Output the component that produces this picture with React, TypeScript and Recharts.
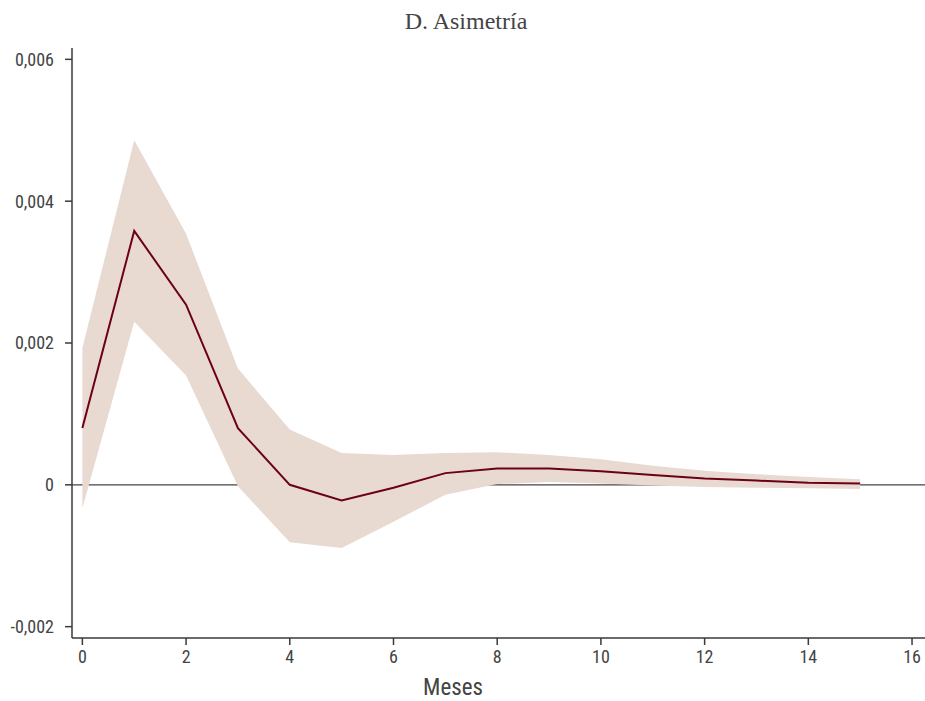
import { ComposedChart, Area, Line, XAxis, YAxis, CartesianGrid } from 'recharts';

// Impulse response of skewness: point estimate and confidence band by month
const months = [0, 1, 2, 3, 4, 5, 6, 7, 8, 9, 10, 11, 12, 13, 14, 15];
const response = [0.0008, 0.00358, 0.00254, 0.0008, 0.0, -0.00022, -0.00004, 0.000165, 0.00023, 0.00023, 0.00019, 0.00014, 0.00009, 0.00006, 0.00003, 0.00002];
const upperBand = [0.00193, 0.00486, 0.00354, 0.00164, 0.00078, 0.00045, 0.00042, 0.00045, 0.00046, 0.00042, 0.00036, 0.00027, 0.0002, 0.00015, 0.00011, 0.00008];
const lowerBand = [-0.00033, 0.0023, 0.00154, -0.00002, -0.00081, -0.00089, -0.00052, -0.00014, 0.00001, 0.00004, 0.00002, -0.00001, -0.00003, -0.00004, -0.00005, -0.00006];

const xTicks = [0, 2, 4, 6, 8, 10, 12, 14, 16];
const yTicks = [-0.002, 0, 0.002, 0.004, 0.006];

const data = months.map((m, i) => ({
  month: m,
  value: response[i],
  band: [lowerBand[i], upperBand[i]],
}));

const tickFont = "'Roboto Condensed', 'Liberation Sans Narrow', Roboto, sans-serif";
const axisColor = '#3a3a3a';
const textColor = '#444';

const formatY = (v: number) => (v === 0 ? '0' : v.toFixed(3).replace('.', ','));

export default function App() {
  return (
    <div style={{ position: 'absolute', left: 0, top: 0, width: 925, height: 701, background: '#fff' }}>
      <div
        style={{
          position: 'absolute',
          top: 7,
          left: 366,
          width: 200,
          textAlign: 'center',
          fontFamily: "'Liberation Serif', 'DejaVu Serif', serif",
          fontSize: 24,
          lineHeight: '28px',
          color: textColor,
          whiteSpace: 'nowrap',
        }}
      >
        D. Asimetría
      </div>
      <ComposedChart
        width={925}
        height={701}
        data={data}
        margin={{ top: 48, right: 0, bottom: 33, left: 0 }}
      >
        {/* zero baseline sits behind the band */}
        <CartesianGrid vertical={false} horizontalValues={[0]} stroke="#444" strokeWidth={1.2} />
        <XAxis
          dataKey="month"
          type="number"
          domain={[-0.2, 16.25]}
          ticks={xTicks}
          allowDataOverflow
          height={30}
          stroke={axisColor}
          strokeWidth={1.5}
          tickSize={7}
          tickMargin={5}
          tick={{ fill: textColor, fontSize: 18, fontFamily: tickFont }}
        />
        <YAxis
          type="number"
          domain={[-0.00216, 0.00616]}
          ticks={yTicks}
          allowDataOverflow
          width={72}
          stroke={axisColor}
          strokeWidth={1.5}
          tickSize={7}
          tickMargin={11}
          tickFormatter={formatY}
          tick={{ fill: textColor, fontSize: 18, fontFamily: tickFont }}
        />
        <Area
          dataKey="band"
          type="linear"
          stroke="none"
          fill="#e8d9d1"
          fillOpacity={1}
          isAnimationActive={false}
          activeDot={false}
        />
        <Line
          dataKey="value"
          type="linear"
          stroke="#6b0018"
          strokeWidth={2}
          dot={false}
          activeDot={false}
          isAnimationActive={false}
        />
      </ComposedChart>
      <div
        style={{
          position: 'absolute',
          top: 675,
          left: 393,
          width: 120,
          textAlign: 'center',
          fontFamily: tickFont,
          fontSize: 23,
          lineHeight: '26px',
          color: textColor,
        }}
      >
        Meses
      </div>
    </div>
  );
}
